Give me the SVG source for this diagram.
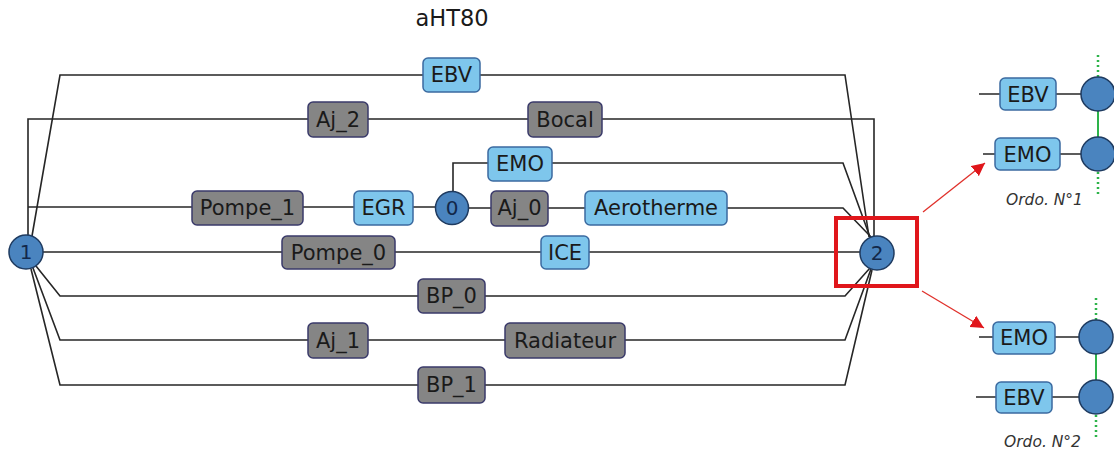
<svg xmlns="http://www.w3.org/2000/svg" width="1114" height="453" viewBox="0 0 1114 453">
<defs>
<style>
.w{fill:none;stroke:#262626;stroke-width:1.6}
.b{fill:#7ec6ec;stroke:#3b6aa0;stroke-width:1.5}
.g{fill:#858585;stroke:#3a3a6a;stroke-width:1.5}
.c{fill:#4a84bf;stroke:#1f3b60;stroke-width:1.5}
.t{font-family:"DejaVu Sans",sans-serif;font-size:21px;fill:#1a1a1a;text-anchor:middle}
.ct{font-family:"DejaVu Sans",sans-serif;font-size:20px;fill:#12284a;text-anchor:middle}
.o{font-family:"DejaVu Sans",sans-serif;font-size:15.5px;font-style:italic;fill:#333}
.gr{stroke:#2db34a;stroke-width:2;fill:none}
.gd{stroke:#2db34a;stroke-width:2.5;fill:none;stroke-dasharray:2,3}
.r{stroke:#e0302a;stroke-width:1.3;fill:none}
</style>
<marker id="ah" markerWidth="13" markerHeight="13" refX="12" refY="6" orient="auto" markerUnits="userSpaceOnUse" viewBox="0 0 12 12">
<path d="M0,0 L12,6 L0,12 z" fill="#e0161b"/>
</marker>
</defs>
<rect width="1114" height="453" fill="#fff"/>
<text x="452" y="26" class="t" style="font-size:22.5px">aHT80</text>
<g id="connectors">
<polyline class="w" points="32,236 60,75 845,75 869,237"/>
<polyline class="w" points="28,235 28,119 874,119 874,236"/>
<polyline class="w" points="28,207 436,207"/>
<polyline class="w" points="469,208 843,208 871,237"/>
<polyline class="w" points="453,192 453,163 843,163 870,237"/>
<polyline class="w" points="43,252 860,252"/>
<polyline class="w" points="36,266 60,296 845,296 870,268"/>
<polyline class="w" points="33,268 60,340 845,340 871,269"/>
<polyline class="w" points="31,269 60,385 845,385 872,270"/>
<line class="w" x1="979" y1="94" x2="1082" y2="94"/>
<line class="w" x1="983" y1="154" x2="1082" y2="154"/>
<line class="w" x1="979" y1="337" x2="1080" y2="337"/>
<line class="w" x1="976" y1="397" x2="1080" y2="397"/>
<line class="gr" x1="1098" y1="111" x2="1098" y2="137"/>
<line class="gd" x1="1098" y1="55" x2="1098" y2="77"/>
<line class="gd" x1="1098" y1="172" x2="1098" y2="196"/>
<line class="gr" x1="1096" y1="354" x2="1096" y2="380"/>
<line class="gd" x1="1096" y1="298" x2="1096" y2="320"/>
<line class="gd" x1="1096" y1="415" x2="1096" y2="438"/>
<line class="r" x1="923" y1="212" x2="985" y2="163" marker-end="url(#ah)"/>
<line class="r" x1="922" y1="291" x2="984" y2="328" marker-end="url(#ah)"/>
</g>
<rect x="836" y="218" width="81" height="68" fill="none" stroke="#e0161b" stroke-width="4"/>
<g id="n1"><circle class="c" cx="26" cy="252" r="17"/><text class="ct" x="26" y="259">1</text></g>
<g id="n2"><circle class="c" cx="877" cy="253" r="17"/><text class="ct" x="877" y="260">2</text></g>
<g id="n0"><circle class="c" cx="452" cy="208" r="16.5"/><text class="ct" x="452" y="215">0</text></g>
<g id="EBV"><rect class="b" x="423" y="58" width="57" height="34" rx="5"/><text class="t" x="451.5" y="82">EBV</text></g>
<g id="Aj_2"><rect class="g" x="308" y="102" width="60" height="35" rx="5"/><text class="t" x="338" y="127">Aj_2</text></g>
<g id="Bocal"><rect class="g" x="528" y="102" width="74" height="35" rx="5"/><text class="t" x="565" y="127">Bocal</text></g>
<g id="EMO"><rect class="b" x="488" y="147" width="64" height="34" rx="5"/><text class="t" x="520" y="171">EMO</text></g>
<g id="Pompe_1"><rect class="g" x="192" y="191" width="111" height="34" rx="5"/><text class="t" x="247.5" y="215">Pompe_1</text></g>
<g id="EGR"><rect class="b" x="354" y="191" width="59" height="34" rx="5"/><text class="t" x="383.5" y="215">EGR</text></g>
<g id="Aj_0"><rect class="g" x="491" y="191" width="57" height="35" rx="5"/><text class="t" x="519.5" y="215">Aj_0</text></g>
<g id="Aerotherme"><rect class="b" x="585" y="191" width="142" height="34" rx="5"/><text class="t" x="656" y="215">Aerotherme</text></g>
<g id="Pompe_0"><rect class="g" x="282" y="236" width="113" height="33" rx="5"/><text class="t" x="338.5" y="260">Pompe_0</text></g>
<g id="ICE"><rect class="b" x="541" y="236" width="48" height="33" rx="5"/><text class="t" x="565" y="260">ICE</text></g>
<g id="BP_0"><rect class="g" x="418" y="279" width="67" height="34" rx="5"/><text class="t" x="451.5" y="303">BP_0</text></g>
<g id="Aj_1"><rect class="g" x="308" y="323" width="60" height="35" rx="5"/><text class="t" x="338" y="348">Aj_1</text></g>
<g id="Radiateur"><rect class="g" x="505" y="323" width="120" height="35" rx="5"/><text class="t" x="565" y="348">Radiateur</text></g>
<g id="BP_1"><rect class="g" x="418" y="367" width="67" height="36" rx="5"/><text class="t" x="451.5" y="392">BP_1</text></g>
<g id="o1_EBV"><rect class="b" x="1000" y="78" width="56" height="32" rx="5"/><text class="t" x="1028" y="102">EBV</text></g>
<g id="o1_c1"><circle class="c" cx="1098" cy="94" r="17"/></g>
<g id="o1_EMO"><rect class="b" x="995" y="138" width="65" height="32" rx="5"/><text class="t" x="1027.5" y="162">EMO</text></g>
<g id="o1_c2"><circle class="c" cx="1098" cy="154" r="17"/></g>
<text class="o" x="1006" y="205">Ordo. N°1</text>
<g id="o2_EMO"><rect class="b" x="993" y="322" width="62" height="32" rx="5"/><text class="t" x="1024" y="345">EMO</text></g>
<g id="o2_c1"><circle class="c" cx="1096" cy="337" r="17"/></g>
<g id="o2_EBV"><rect class="b" x="996" y="382" width="56" height="31" rx="5"/><text class="t" x="1024" y="405">EBV</text></g>
<g id="o2_c2"><circle class="c" cx="1096" cy="397" r="17"/></g>
<text class="o" x="1004" y="447">Ordo. N°2</text>
</svg>
